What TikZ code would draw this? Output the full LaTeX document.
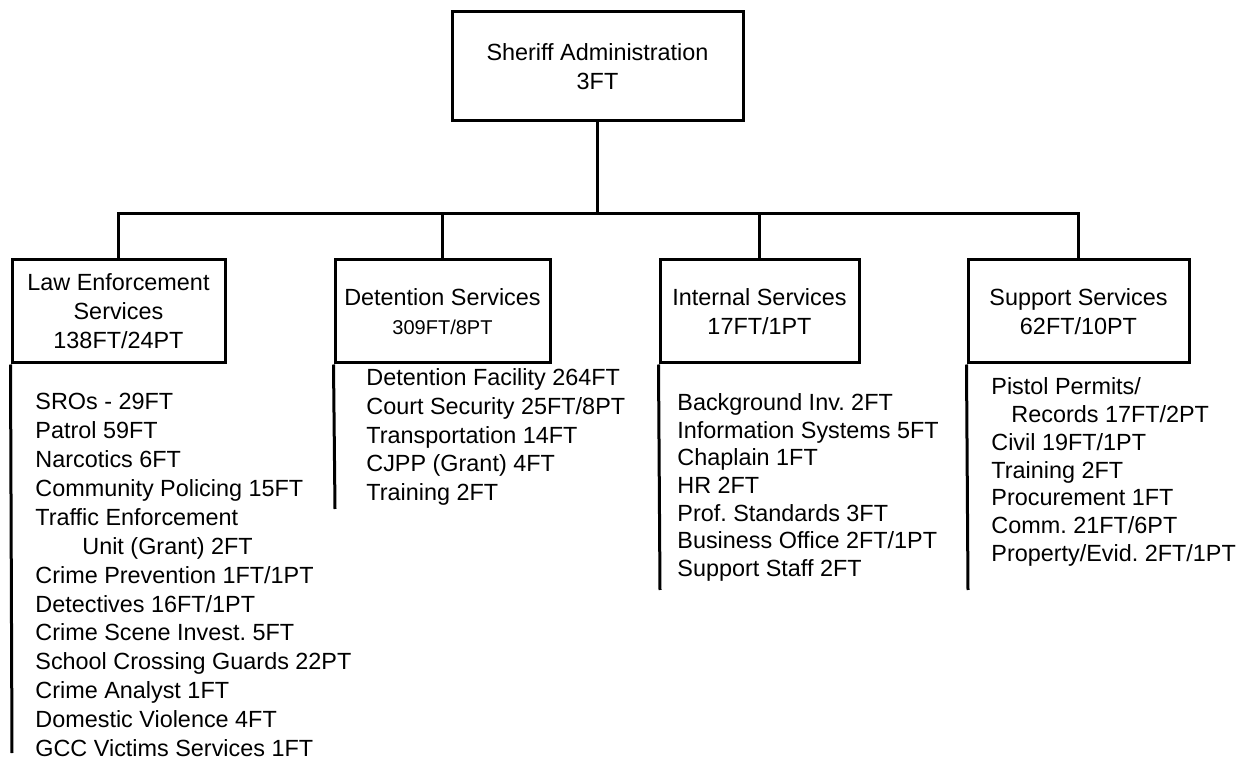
\documentclass[tikz,border=0pt]{standalone}
\usepackage{fontspec}
\setmainfont{Liberation Sans}
\frenchspacing
\usetikzlibrary{calc}

\begin{document}
\begin{tikzpicture}[line join=miter,x=0.5pt,y=-0.5pt,
  unit/.style={draw,line width=1.5pt,inner sep=0pt,align=center,minimum height=51.5pt,font=\fontsize{11.7}{14.5}\selectfont},
  staff/.style={anchor=base west,inner sep=0pt,align=left},
  wire/.style={line width=1.5pt}]
\useasboundingbox (0,0) rectangle (1238,759);
% top office
\node[unit,minimum width=145.5pt,minimum height=54.5pt] (sheriff) at (597.5,66.5) {Sheriff Administration\\3FT};
% divisions
\node[unit,minimum width=106.5pt] (law) at (118.5,311.5) {Law Enforcement\\Services\\138FT/24PT};
\node[unit,minimum width=107.5pt] (det) at (442.5,311.5) {Detention Services\\{\fontsize{10}{12}\selectfont 309FT/8PT}};
\node[unit,minimum width=99.5pt] (int) at (759.5,311.5) {Internal Services\\17FT/1PT};
\node[unit,minimum width=110.5pt] (sup) at (1078.5,311.5) {Support Services\\62FT/10PT};
\coordinate (bus) at (597.5,214);
\draw[wire] (sheriff) -- (bus);
\draw[wire] (bus) -| (law.north);
\draw[wire] (bus) -| (det.north);
\draw[wire] (bus) -| (int.north);
\draw[wire] (bus) -| (sup.north);
% staff lists (base = last line)
\coordinate (lawfoot) at (12,753);
\coordinate (detfoot) at (335,509);
\coordinate (intfoot) at (660,590);
\coordinate (supfoot) at (968,590);
\draw[wire] (law.south west) -- (lawfoot);
\draw[wire] (det.south west) -- (detfoot);
\draw[wire] (int.south west) -- (intfoot);
\draw[wire] (sup.south west) -- (supfoot);
\node[staff,font=\fontsize{11.7}{14.45}\selectfont] (lawlist) at (35,756.5) {SROs - 29FT\\Patrol 59FT\\Narcotics 6FT\\Community Policing 15FT\\Traffic Enforcement\\\hspace*{23.5pt}Unit (Grant) 2FT\\Crime Prevention 1FT/1PT\\Detectives 16FT/1PT\\Crime Scene Invest. 5FT\\School Crossing Guards 22PT\\Crime Analyst 1FT\\Domestic Violence 4FT\\GCC Victims Services 1FT};
\node[staff,font=\fontsize{11.7}{14.35}\selectfont] (detlist) at (366,500.5) {Detention Facility 264FT\\Court Security 25FT/8PT\\Transportation 14FT\\CJPP (Grant) 4FT\\Training 2FT};
\node[staff,font=\fontsize{11.7}{13.85}\selectfont] (intlist) at (677,576.5) {Background Inv. 2FT\\Information Systems 5FT\\Chaplain 1FT\\HR 2FT\\Prof. Standards 3FT\\Business Office 2FT/1PT\\Support Staff 2FT};
\node[staff,font=\fontsize{11.7}{13.9}\selectfont] (suplist) at (991,561.5) {Pistol Permits/\\\hspace*{10pt}Records 17FT/2PT\\Civil 19FT/1PT\\Training 2FT\\Procurement 1FT\\Comm. 21FT/6PT\\Property/Evid. 2FT/1PT};
\end{tikzpicture}
\end{document}
